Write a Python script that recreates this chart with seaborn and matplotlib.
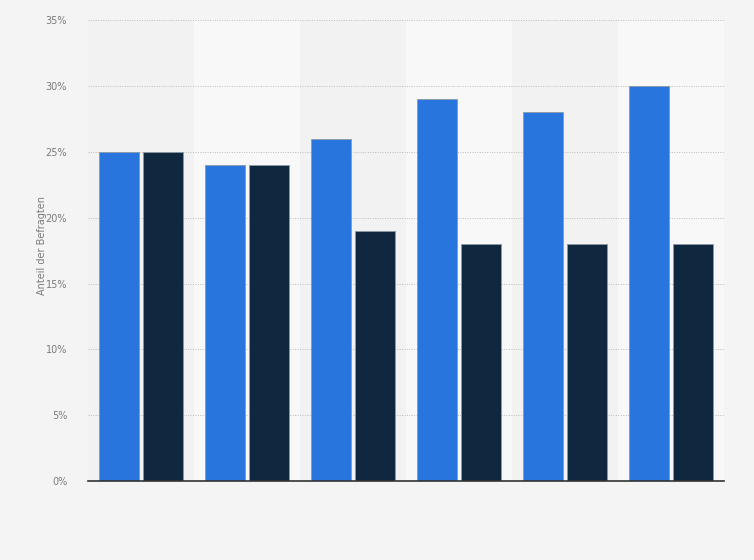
import matplotlib
matplotlib.use('Agg')
import matplotlib.pyplot as plt
import seaborn as sns
import pandas as pd

# Daten
groups = ['1', '2', '3', '4', '5', '6']
series_names = ['Serie A', 'Serie B']
values_a = [25, 24, 26, 29, 28, 30]
values_b = [25, 24, 19, 18, 18, 18]
y_ticks = [0, 5, 10, 15, 20, 25, 30, 35]

df = pd.DataFrame({
    'gruppe': groups * 2,
    'serie': [series_names[0]] * len(groups) + [series_names[1]] * len(groups),
    'wert': values_a + values_b,
})

sns.set_theme(style='white')
plt.rcParams['font.family'] = ['DejaVu Sans']

fig = plt.figure(figsize=(7.54, 5.6), dpi=100)
fig.patch.set_facecolor('#f4f4f4')
ax = fig.add_axes([0.1167, 0.141, 0.8433, 0.823])
ax.set_facecolor('#f4f4f4')

# Hintergrundstreifen
for i in range(len(groups)):
    ax.axvspan(i - 0.5, i + 0.5, color='#f2f2f2' if i % 2 == 0 else '#f8f8f8',
               zorder=0, lw=0)

sns.barplot(data=df, x='gruppe', y='wert', hue='serie', ax=ax,
            palette=['#2876dd', '#0f2840'], saturation=1, width=0.83, gap=0.1,
            edgecolor='#8c99a6', linewidth=0.6, legend=False, zorder=3)

ax.set_xlim(-0.5, len(groups) - 0.5)
ax.set_ylim(0, 35)
ax.set_yticks(y_ticks)
ax.set_yticklabels([f'{t}%' for t in y_ticks], fontsize=7, color='#7a7a7a')
ax.set_xticks([])
ax.set_xlabel('')
ax.set_ylabel('Anteil der Befragten', fontsize=7, color='#7a7a7a')
ax.yaxis.set_label_coords(-0.065, 0.51)
ax.tick_params(axis='y', length=0, pad=15)

ax.grid(True, axis='y', color='#bbbbbb', linestyle=(0, (1, 1.5)), linewidth=0.7, zorder=1)
ax.set_axisbelow(True)
for s in ['top', 'right', 'left']:
    ax.spines[s].set_visible(False)
ax.spines['bottom'].set_color('#333333')
ax.spines['bottom'].set_linewidth(1.2)
ax.spines['bottom'].set_zorder(5)

fig.savefig('out.png', dpi=100, facecolor=fig.get_facecolor())
